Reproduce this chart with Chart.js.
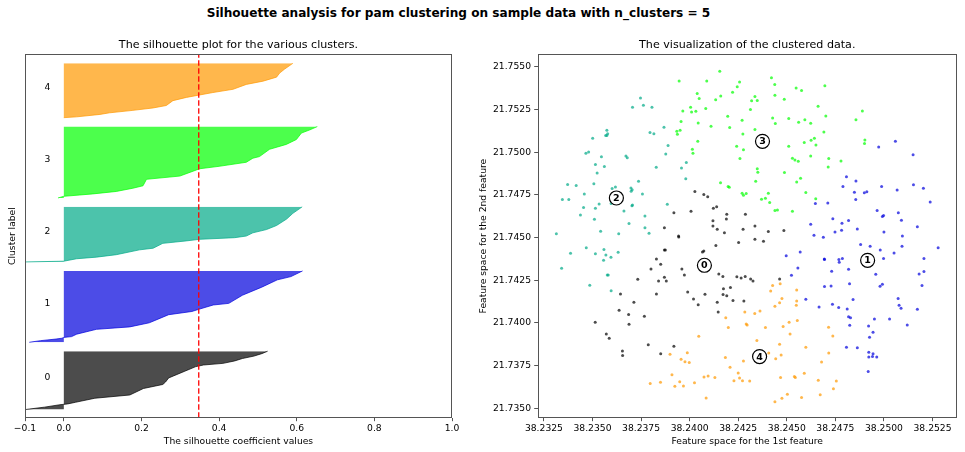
<!DOCTYPE html>
<html><head><meta charset="utf-8">
<script src="https://cdn.jsdelivr.net/npm/chart.js@4.4.1/dist/chart.umd.min.js"></script>
<style>
html,body{margin:0;padding:0;background:#fff;width:965px;height:452px;overflow:hidden;position:relative;}
#sup{position:absolute;left:206.7px;top:5px;font:bold 12.1px "DejaVu Sans";line-height:16px;white-space:nowrap;color:#000;}
canvas{position:absolute;}
</style></head><body>
<div id="sup">Silhouette analysis for pam clustering on sample data with n_clusters = 5</div>
<canvas id="c1" width="465" height="422" style="left:0;top:30px;width:465px;height:422px"></canvas>
<canvas id="c2" width="500" height="422" style="left:465px;top:30px;width:500px;height:422px"></canvas>
<script>
// ---------- data: silhouette profiles (rank within cluster, coefficient) ----------
const clusterSizes = [73, 89, 69, 89, 68];
const silhouetteAvg = 0.3476;
const c0Rank = [0,3,6,7,9,14,18,26,31,34,39,47,53,55,57,60,63,66,69,72];
const c0Sil  = [-0.10,-0.05,-0.01,0.01,0.03,0.08,0.17,0.205,0.255,0.262,0.27,0.31,0.34,0.36,0.41,0.44,0.46,0.49,0.51,0.525];
const c1Rank = [0,2,4,5,6,7,10,16,19,24,26,34,38,41,46,48,58,68,77,81,88];
const c1Sil  = [-0.089,-0.06,-0.02,-0.005,0.0,0.02,0.033,0.084,0.17,0.22,0.23,0.27,0.33,0.35,0.385,0.425,0.46,0.51,0.55,0.585,0.615];
const c2Rank = [0,1,4,6,9,15,17,23,26,28,30,32,36,40,45,53,60,68];
const c2Sil  = [-0.11,0.0,0.033,0.084,0.135,0.195,0.23,0.255,0.315,0.35,0.44,0.47,0.487,0.522,0.548,0.574,0.59,0.614];
const c3Rank = [0,2,5,8,12,15,23,27,33,36,39,44,49,51,60,66,72,80,84,88];
const c3Sil  = [-0.015,0.0,0.075,0.135,0.178,0.204,0.213,0.299,0.333,0.35,0.40,0.47,0.487,0.504,0.53,0.573,0.599,0.612,0.634,0.653];
const c4Rank = [0,1,4,6,9,12,15,21,25,28,31,35,41,45,50,55,60,67];
const c4Sil  = [0.0,0.033,0.093,0.118,0.178,0.23,0.264,0.281,0.316,0.35,0.384,0.436,0.47,0.513,0.548,0.556,0.569,0.59];

// ---------- data: clustered points ----------
const c0X = [38.24027,38.24073,38.24093,38.24122,38.24139,38.23919,38.24007,38.24120,38.24120,38.24191,38.24189,38.24142,38.24179,38.23870,38.23943,38.23944,38.24275,38.24287,38.24336,38.24405,38.24485,38.24336,38.24252,38.24380,38.24243,38.24265,38.24286,38.24314,38.24326,38.24463,38.24279,38.24135,38.23870,38.23875,38.24066,38.24073,38.23829,38.23851,38.23801,38.23960,38.23973,38.23870,38.23733,38.23840,38.23880,38.24150,38.24171,38.24174,38.24210,38.23990,38.24079,38.23829,38.23644,38.24172,38.24191,38.24020,38.24044,38.24142,38.24223,38.23713,38.23637,38.23686,38.23767,38.24147,38.23688,38.23514,38.23571,38.23586,38.23787,38.23919,38.23654,38.23655,38.23851];
const c0Y = [21.74770,21.74752,21.74740,21.74672,21.74680,21.74645,21.74654,21.74598,21.74568,21.74637,21.74609,21.74549,21.74529,21.74557,21.74510,21.74504,21.74549,21.74637,21.74568,21.74535,21.74541,21.74490,21.74471,21.74479,21.74270,21.74264,21.74272,21.74258,21.74246,21.74258,21.74129,21.74453,21.74428,21.74428,21.74416,21.74422,21.74375,21.74344,21.74316,21.74316,21.74281,21.74268,21.74256,21.74246,21.74246,21.74287,21.74272,21.74201,21.74207,21.74182,21.74168,21.74170,21.74170,21.74166,21.74160,21.74141,21.74107,21.74121,21.74131,21.74121,21.74074,21.74049,21.74039,21.74064,21.73992,21.74004,21.73936,21.73910,21.73873,21.73863,21.73836,21.73809,21.73820];
const c1X = [38.25059,38.24973,38.25150,38.24807,38.24856,38.24789,38.24988,38.25068,38.25152,38.25203,38.24848,38.24899,38.24912,38.24855,38.25238,38.24711,38.24647,38.24965,38.25074,38.24992,38.24998,38.25090,38.24737,38.24818,38.24784,38.24623,38.25172,38.24863,38.24748,38.24782,38.25000,38.25095,38.24640,38.24688,38.25093,38.24880,38.24929,38.24497,38.24569,38.24693,38.24694,38.24768,38.24770,38.24786,38.24981,38.24998,38.25052,38.25279,38.25206,38.24557,38.24524,38.24731,38.24818,38.24958,38.25181,38.25206,38.24694,38.24728,38.24823,38.24980,38.24992,38.25196,38.24598,38.24735,38.24841,38.24666,38.24767,38.24811,38.25073,38.25078,38.25088,38.25172,38.24818,38.24828,38.24951,38.25029,38.24824,38.24921,38.25120,38.24944,38.24926,38.24807,38.24863,38.24922,38.24944,38.24941,38.24922,38.24963,38.24919];
const c1Y = [21.75065,21.75031,21.74986,21.74856,21.74832,21.74799,21.74799,21.74779,21.74809,21.74789,21.74766,21.74762,21.74768,21.74723,21.74709,21.74703,21.74699,21.74658,21.74645,21.74623,21.74629,21.74602,21.74611,21.74600,21.74584,21.74578,21.74563,21.74551,21.74533,21.74543,21.74533,21.74510,21.74514,21.74502,21.74449,21.74459,21.74449,21.74393,21.74416,21.74375,21.74371,21.74371,21.74355,21.74377,21.74428,21.74377,21.74410,21.74440,21.74377,21.74322,21.74279,21.74303,21.74314,21.74285,21.74287,21.74301,21.74213,21.74217,21.74230,21.74215,21.74227,21.74219,21.74139,21.74109,21.74137,21.74094,21.74090,21.74082,21.74143,21.74104,21.74086,21.74080,21.74037,21.74031,21.74023,21.74023,21.73986,21.73982,21.73988,21.73945,21.73916,21.73857,21.73855,21.73828,21.73820,21.73803,21.73801,21.73801,21.73715];
const c2X = [38.23747,38.23706,38.23762,38.23806,38.23574,38.23578,38.23568,38.23574,38.23501,38.23796,38.23816,38.23868,38.23889,38.23877,38.23466,38.23480,38.23546,38.23672,38.23679,38.23515,38.23561,38.23524,38.23828,38.23983,38.23958,38.23980,38.23507,38.23372,38.23416,38.23458,38.23601,38.23618,38.23698,38.23699,38.23704,38.23757,38.23737,38.23345,38.23378,38.23454,38.23515,38.23534,38.23596,38.23438,38.23510,38.23662,38.23703,38.23706,38.23688,38.23770,38.23885,38.23314,38.23542,38.23635,38.23770,38.23791,38.23468,38.23559,38.23632,38.23387,38.23515,38.23569,38.23595,38.23557,38.23341,38.23576,38.23581,38.23486,38.23596];
const c2Y = [21.75318,21.75264,21.75275,21.75264,21.75129,21.75109,21.75098,21.75098,21.75082,21.75115,21.75109,21.75147,21.75039,21.74990,21.74994,21.75002,21.74973,21.74978,21.74967,21.74928,21.74916,21.74879,21.74912,21.74940,21.74908,21.74844,21.74816,21.74811,21.74805,21.74756,21.74787,21.74797,21.74791,21.74771,21.74781,21.74756,21.74830,21.74723,21.74723,21.74676,21.74672,21.74697,21.74699,21.74633,21.74607,21.74656,21.74686,21.74691,21.74582,21.74627,21.74695,21.74523,21.74537,21.74523,21.74557,21.74525,21.74441,21.74430,21.74414,21.74408,21.74406,21.74398,21.74385,21.74367,21.74320,21.74281,21.74281,21.74221,21.74189];
const c3X = [38.24155,38.23946,38.24088,38.24257,38.24245,38.24221,38.24039,38.24049,38.24160,38.24134,38.24005,38.24032,38.24010,38.24083,38.23965,38.24196,38.24270,38.23956,38.24044,38.24110,38.24206,38.23934,38.23951,38.23937,38.24274,38.24042,38.24242,38.24014,38.24017,38.24259,38.24159,38.24198,38.24204,38.24270,38.24277,38.24291,38.24421,38.24438,38.24548,38.24576,38.24696,38.24336,38.24319,38.24348,38.24439,38.24487,38.24313,38.24661,38.24889,38.24427,38.24441,38.24510,38.24561,38.24593,38.24623,38.24701,38.24856,38.24336,38.24691,38.24625,38.24642,38.24590,38.24650,38.24902,38.24900,38.24277,38.24510,38.24623,38.24529,38.24542,38.24559,38.24716,38.24779,38.24713,38.24348,38.24351,38.24340,38.24488,38.24571,38.24551,38.24405,38.24370,38.24390,38.24412,38.24598,38.24649,38.24529,38.24439,38.24452];
const c3Y = [21.75475,21.75418,21.75418,21.75412,21.75383,21.75352,21.75344,21.75315,21.75330,21.75307,21.75264,21.75240,21.75236,21.75256,21.75242,21.75211,21.75188,21.75180,21.75172,21.75152,21.75145,21.75123,21.75129,21.75105,21.75107,21.75065,21.75035,21.75018,21.74994,21.74963,21.74822,21.74799,21.74795,21.74760,21.74748,21.74758,21.75436,21.75397,21.75377,21.75361,21.75389,21.75326,21.75301,21.75303,21.75334,21.75311,21.75250,21.75270,21.75242,21.75201,21.75168,21.75197,21.75176,21.75191,21.75170,21.75213,21.75191,21.75133,21.75119,21.75070,21.75082,21.75057,21.75043,21.75072,21.75051,21.75014,21.75035,21.74978,21.74965,21.74955,21.74947,21.74963,21.74949,21.74914,21.74904,21.74883,21.74830,21.74881,21.74848,21.74826,21.74760,21.74725,21.74731,21.74705,21.74764,21.74727,21.74654,21.74658,21.74662];
const c4X = [38.23797,38.23850,38.23899,38.23909,38.23924,38.23949,38.23968,38.23956,38.23976,38.23998,38.23988,38.24025,38.24047,38.24074,38.24095,38.24130,38.24085,38.24186,38.24199,38.24184,38.24208,38.24228,38.24250,38.24257,38.24272,38.24309,38.24284,38.24291,38.24296,38.24335,38.24362,38.24390,38.24346,38.24277,38.24407,38.24443,38.24471,38.24463,38.24468,38.24539,38.24544,38.24590,38.24662,38.24755,38.24740,38.24503,38.24475,38.24439,38.24576,38.24672,38.24427,38.24466,38.24417,38.24551,38.24475,38.24463,38.24439,38.24551,38.24549,38.24512,38.24554,38.24481,38.24517,38.24715,38.24737,38.24598,38.24716,38.24679];
const c4Y = [21.73645,21.73652,21.73816,21.73697,21.73629,21.73656,21.73631,21.73787,21.73773,21.73768,21.73826,21.73650,21.73922,21.73684,21.73689,21.73680,21.73561,21.74031,21.73973,21.73797,21.73740,21.73662,21.73707,21.73678,21.73662,21.73660,21.74064,21.73994,21.73988,21.74055,21.74070,21.73973,21.73897,21.73777,21.73824,21.73791,21.73812,21.73875,21.73680,21.73686,21.73680,21.73705,21.73664,21.73660,21.73615,21.73582,21.73559,21.73539,21.73564,21.73580,21.74219,21.74229,21.74187,21.74193,21.74143,21.74119,21.74098,21.74129,21.74104,21.74004,21.74014,21.73979,21.73936,21.73975,21.73924,21.73857,21.73824,21.73771];
const centerX = [38.24076,38.24916,38.23623,38.24375,38.24360];
const centerY = [21.74338,21.74367,21.74732,21.75064,21.73803];

// ---------- tick labels ----------
const xTicks1 = [-0.1, 0.0, 0.2, 0.4, 0.6, 0.8, 1.0];
const xTicks2 = [38.2325, 38.2350, 38.2375, 38.2400, 38.2425, 38.2450, 38.2475, 38.2500, 38.2525];
const yTicks2 = [21.7350, 21.7375, 21.7400, 21.7425, 21.7450, 21.7475, 21.7500, 21.7525, 21.7550];

// ---------- styling ----------
const FONT = 'DejaVu Sans';
Chart.defaults.font.family = FONT;
Chart.defaults.font.size = 9.2;
Chart.defaults.color = '#000';
const clusterRGB = ['0,0,0', '0,0,221', '0,170,136', '0,255,0', '255,153,0'];
const AXIS_COL = '#555';

const silRanks = [c0Rank, c1Rank, c2Rank, c3Rank, c4Rank];
const silVals = [c0Sil, c1Sil, c2Sil, c3Sil, c4Sil];
const GAP = 10;
let yLower = GAP;
const silDatasets = [];
const labelPos = [];
for (let i = 0; i < clusterSizes.length; i++) {
  const base = yLower;
  const col = 'rgba(' + clusterRGB[i] + ',0.7)';
  silDatasets.push({
    data: silRanks[i].map((r, k) => ({x: silVals[i][k], y: base + r})),
    fill: 'origin', backgroundColor: col, borderColor: col, borderWidth: 1,
    pointRadius: 0, tension: 0
  });
  labelPos.push(base + 0.5 * clusterSizes[i]);
  yLower += clusterSizes[i] + GAP;
}
const yMax1 = yLower;

const framePlugin = {
  id: 'frame',
  afterDraw(chart) {
    const {ctx, chartArea: a} = chart;
    ctx.save();
    ctx.strokeStyle = AXIS_COL; ctx.lineWidth = 1;
    const l = Math.round(a.left) + 0.5, t = Math.round(a.top) + 0.5;
    const r = Math.round(a.right) - 0.5, b = Math.round(a.bottom) - 0.5;
    ctx.strokeRect(l, t, r - l, b - t);
    ctx.restore();
  }
};
const labelPlugin = {
  id: 'clabels',
  afterDatasetsDraw(chart) {
    const {ctx, scales: {x, y}} = chart;
    ctx.save();
    ctx.font = '9.2px "DejaVu Sans"'; ctx.fillStyle = '#000';
    ctx.textAlign = 'left'; ctx.textBaseline = 'alphabetic';
    labelPos.forEach((p, i) => ctx.fillText(String(i), x.getPixelForValue(-0.05), y.getPixelForValue(p)));
    ctx.restore();
  }
};
const centerLabelPlugin = {
  id: 'centerLabels',
  afterDatasetsDraw(chart) {
    const {ctx, scales: {x, y}} = chart;
    ctx.save();
    ctx.font = 'bold 9.5px "DejaVu Sans"'; ctx.fillStyle = '#000';
    ctx.textAlign = 'center'; ctx.textBaseline = 'middle';
    centerX.forEach((cx, i) => ctx.fillText(String(i), x.getPixelForValue(cx), y.getPixelForValue(centerY[i]) + 0.5));
    ctx.restore();
  }
};

const tickGrid = {drawOnChartArea: false, drawTicks: true, tickLength: 3.5, color: AXIS_COL, tickWidth: 1};

new Chart(document.getElementById('c1'), {
  type: 'line',
  data: {
    datasets: [
      {data: [{x: silhouetteAvg, y: 0}, {x: silhouetteAvg, y: yMax1}], borderColor: '#ff0000',
       borderWidth: 1.3, borderDash: [5.5, 2.5], pointRadius: 0, fill: false},
      ...silDatasets
    ]
  },
  options: {
    indexAxis: 'y', responsive: false, animation: false, devicePixelRatio: 1, events: [],
    layout: {padding: {left: 0, right: 13, top: 0, bottom: 0}},
    plugins: {
      legend: {display: false}, tooltip: {enabled: false},
      title: {display: true, text: 'The silhouette plot for the various clusters.', fullSize: false,
              font: {size: 11.1, weight: 'normal'}, color: '#000', padding: {top: 8, bottom: 3.1}}
    },
    scales: {
      x: {
        type: 'linear', position: 'bottom', min: -0.1, max: 1.0,
        afterBuildTicks: s => { s.ticks = xTicks1.map(v => ({value: v})); },
        ticks: {callback: v => (v < 0 ? '\u2212' : '') + Math.abs(v).toFixed(1), padding: 2.3, autoSkip: false, maxRotation: 0, color: '#000'},
        grid: tickGrid, border: {display: false},
        title: {display: true, text: 'The silhouette coefficient values', padding: {top: 0, bottom: 4.8}, color: '#000'},
        afterFit: s => { s.height = 34.3; }
      },
      y: {
        type: 'linear', position: 'left', min: 0, max: yMax1,
        ticks: {display: false}, grid: {display: false}, border: {display: false},
        title: {display: true, text: 'Cluster label', padding: {top: 7.2, bottom: 0}, color: '#000'},
        afterFit: s => { s.width = 25; }
      }
    }
  },
  plugins: [framePlugin, labelPlugin]
});

const ptX = [c0X, c1X, c2X, c3X, c4X];
const ptY = [c0Y, c1Y, c2Y, c3Y, c4Y];
const scatterSets = ptX.map((xs, i) => {
  const col = 'rgba(' + clusterRGB[i] + ',0.7)';
  return {data: xs.map((v, k) => ({x: v, y: ptY[i][k]})), backgroundColor: col, borderColor: col,
          pointRadius: 1.5, pointBorderWidth: 0, borderWidth: 0};
});

new Chart(document.getElementById('c2'), {
  type: 'scatter',
  data: {
    datasets: [
      {data: centerX.map((v, i) => ({x: v, y: centerY[i]})), backgroundColor: '#ffffff', borderColor: '#000000',
       pointRadius: 7, pointBorderWidth: 1.2, borderWidth: 1.2},
      ...scatterSets
    ]
  },
  options: {
    responsive: false, animation: false, devicePixelRatio: 1, events: [],
    layout: {padding: {left: 0, right: 1.7, top: 0, bottom: 0}},
    plugins: {
      legend: {display: false}, tooltip: {enabled: false},
      title: {display: true, text: 'The visualization of the clustered data.', fullSize: false,
              font: {size: 11.1, weight: 'normal'}, color: '#000', padding: {top: 8, bottom: 3.1}}
    },
    scales: {
      x: {
        type: 'linear', position: 'bottom', min: 38.23218, max: 38.25375,
        afterBuildTicks: s => { s.ticks = xTicks2.map(v => ({value: v})); },
        ticks: {callback: v => v.toFixed(4), padding: 2.3, autoSkip: false, maxRotation: 0, color: '#000'},
        grid: tickGrid, border: {display: false},
        title: {display: true, text: 'Feature space for the 1st feature', padding: {top: 0, bottom: 4.8}, color: '#000'},
        afterFit: s => { s.height = 34.3; }
      },
      y: {
        type: 'linear', position: 'left', min: 21.73445, max: 21.75573,
        afterBuildTicks: s => { s.ticks = yTicks2.map(v => ({value: v})); },
        ticks: {callback: v => v.toFixed(4), padding: 3.2, autoSkip: false, color: '#000'},
        grid: tickGrid, border: {display: false},
        title: {display: true, text: 'Feature space for the 2nd feature', padding: {top: 12.8, bottom: 0}, color: '#000'},
        afterFit: s => { s.width = 72.7; }
      }
    }
  },
  plugins: [framePlugin, centerLabelPlugin]
});
</script>
</body></html>
